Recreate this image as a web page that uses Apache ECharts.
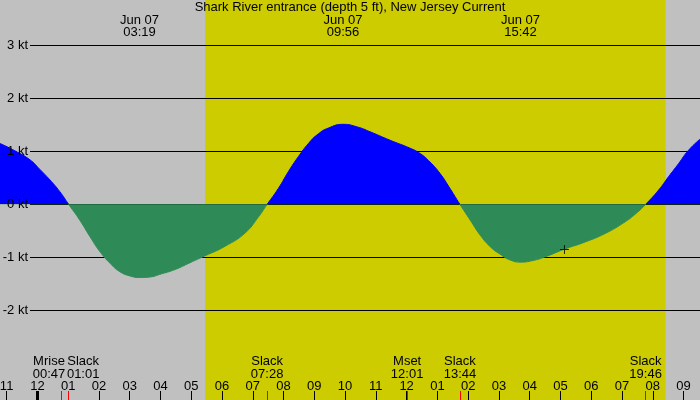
<!DOCTYPE html>
<html>
<head>
<meta charset="utf-8">
<script src="https://cdn.jsdelivr.net/npm/echarts@6/dist/echarts.min.js"></script>
<style>
  html, body { margin: 0; padding: 0; background: #c0c0c0; }
  #chart { width: 700px; height: 400px; }
</style>
</head>
<body>
<div id="chart"></div>
<script>
// hours from midnight Jun 07, current speed in knots (+ flood, - ebb)
var times = [-1.215, -0.73, -0.24, 0.08, 0.41, 0.73, 1.017, 1.38, 1.71, 2.03, 2.36, 2.68, 3.01, 3.317, 3.66, 3.98, 4.47,
  4.96, 5.45, 6.10, 6.75, 7.18, 7.467, 7.83, 8.16, 8.48, 8.81, 9.13, 9.46, 9.933, 10.40, 10.81, 11.46,
  12.11, 12.44, 12.76, 13.09, 13.41, 13.733, 14.07, 14.39, 14.72, 15.04, 15.37, 15.70, 16.10, 16.50, 17.15,
  17.80, 18.45, 19.10, 19.50, 19.767, 20.19, 20.51, 20.84, 21.16, 21.535];
var speeds = [1.15, 1.01, 0.84, 0.66, 0.46, 0.24, 0, -0.30, -0.61, -0.89, -1.11, -1.27, -1.35, -1.38, -1.37, -1.32, -1.23,
  -1.10, -0.97, -0.79, -0.54, -0.24, 0, 0.30, 0.62, 0.90, 1.15, 1.33, 1.44, 1.51, 1.46, 1.37, 1.21,
  1.06, 0.96, 0.80, 0.58, 0.30, 0, -0.30, -0.58, -0.80, -0.94, -1.05, -1.09, -1.06, -0.99, -0.84,
  -0.71, -0.55, -0.33, -0.15, 0, 0.27, 0.52, 0.77, 1.02, 1.23];

var tMin = -1.215, tMax = 21.535;
var hourTicks = [-1, 0, 1, 2, 3, 4, 5, 6, 7, 8, 9, 10, 11, 12, 13, 14, 15, 16, 17, 18, 19, 20, 21];
var speedTicks = [-2, -1, 0, 1, 2, 3];

// sunrise / sunset
var sunrise = 5.45, sunset = 20.42;

// max current times shown at top
var maxTimes = [3.317, 9.933, 15.7];
var maxLabels = ['03:19', '09:56', '15:42'];
var dateLabel = 'Jun 07';

// slack water events
var slackTimes = [1.017, 7.467, 13.733, 19.767];
var slackLabels = ['01:01', '07:28', '13:44', '19:46'];

// moon events
var moonTimes = [0.783, 12.017];
var moonNames = ['Mrise', 'Mset'];
var moonLabels = ['00:47', '12:01'];

// "now" mark
var nowTime = 17.13, nowSpeed = -0.85;

var FONT = 'Liberation Sans';
var FS = 13;

function nearest(arr, v) {
  var best = 0;
  for (var i = 1; i < arr.length; i++) {
    if (Math.abs(arr[i] - v) < Math.abs(arr[best] - v)) best = i;
  }
  return best;
}
function hourLabel(h) {
  var v = ((h % 12) + 12) % 12;
  if (v === 0) v = 12;
  return (v < 10 ? '0' : '') + v;
}
// rich style key: shift a label left/right when another event is close by
function shiftKey(v, others) {
  var o = others[nearest(others, v)];
  if (Math.abs(o - v) > 0.8) return 'c';
  return o > v ? 'l' : 'r';
}
var richEvents = {
  c: { fontSize: FS, lineHeight: 13, color: '#000', fontFamily: FONT },
  l: { fontSize: FS, lineHeight: 13, color: '#000', fontFamily: FONT, padding: [0, 25, 0, 0] },
  r: { fontSize: FS, lineHeight: 13, color: '#000', fontFamily: FONT, padding: [0, 0, 0, 29] }
};

function eventAxis(values, ticksColor, formatter) {
  return {
    gridIndex: 0, type: 'value', min: tMin, max: tMax, position: 'bottom',
    axisLine: { show: false, onZero: false },
    splitLine: { show: false },
    axisTick: { customValues: values, inside: true, length: 9, lineStyle: { color: ticksColor, width: 1 } },
    axisLabel: {
      customValues: values, inside: true, margin: 19,
      showMinLabel: true, showMaxLabel: true,
      color: '#000', fontSize: FS, fontFamily: FONT, lineHeight: 13,
      formatter: formatter,
      rich: richEvents
    }
  };
}

var data = times.map(function (t, i) { return [t, speeds[i]]; });

var chart = echarts.init(document.getElementById('chart'));
chart.setOption({
  animation: false,
  backgroundColor: '#c0c0c0',
  textStyle: { fontFamily: FONT },
  title: {
    text: 'Shark River entrance (depth 5 ft), New Jersey Current',
    left: 'center',
    top: 1,
    padding: 0,
    textStyle: { fontFamily: FONT, fontSize: FS, fontWeight: 'normal', color: '#000' }
  },
  grid: [
    { left: 0, right: 0, top: 0, bottom: 0, outerBoundsMode: 'none' },
    { left: 30, right: 0, top: 0, bottom: 0, outerBoundsMode: 'none' }
  ],
  xAxis: [
    {
      gridIndex: 0, type: 'value', min: tMin, max: tMax, position: 'bottom',
      axisLine: { show: false, onZero: false },
      splitLine: { show: false },
      axisTick: { customValues: hourTicks, inside: true, length: 9, lineStyle: { color: '#000', width: 1 } },
      axisLabel: {
        customValues: hourTicks, inside: true, margin: 7,
        showMinLabel: true, showMaxLabel: true,
        color: '#000', fontSize: FS, fontFamily: FONT,
        formatter: function (v) { return hourLabel(v); }
      }
    },
    {
      gridIndex: 0, type: 'value', min: tMin, max: tMax, position: 'bottom',
      axisLine: { show: false, onZero: false },
      splitLine: { show: false },
      axisTick: { customValues: [0], inside: true, length: 9, lineStyle: { color: '#000', width: 3 } },
      axisLabel: { show: false }
    },
    eventAxis(slackTimes, '#ff0000', function (v) {
      var i = nearest(slackTimes, v), k = shiftKey(v, moonTimes);
      return '{' + k + '|Slack}\n{' + k + '|' + slackLabels[i] + '}';
    }),
    eventAxis(moonTimes, '#ff0000', function (v) {
      var i = nearest(moonTimes, v), k = shiftKey(v, slackTimes);
      return '{' + k + '|' + moonNames[i] + '}\n{' + k + '|' + moonLabels[i] + '}';
    }),
    {
      gridIndex: 0, type: 'value', min: tMin, max: tMax, position: 'top',
      axisLine: { show: false, onZero: false },
      splitLine: { show: false },
      axisTick: { show: false },
      axisLabel: {
        customValues: maxTimes, inside: true, margin: 14,
        showMinLabel: true, showMaxLabel: true,
        color: '#000', fontSize: FS, fontFamily: FONT, lineHeight: 12,
        formatter: function (v) { return dateLabel + '\n' + maxLabels[nearest(maxTimes, v)]; }
      }
    },
    {
      gridIndex: 1, type: 'value', min: tMin, max: tMax, show: false,
      axisLine: { onZero: false }
    }
  ],
  yAxis: [
    { gridIndex: 0, type: 'value', min: -3.69, max: 3.855, show: false },
    {
      // grid lines, drawn under the current area
      gridIndex: 1, type: 'value', min: -3.69, max: 3.855, position: 'left',
      axisLine: { show: false },
      axisTick: { show: false, customValues: speedTicks },
      splitLine: { show: true, lineStyle: { color: '#000', width: 1 } },
      axisLabel: { show: false }
    },
    {
      // kt labels, drawn over the current area
      gridIndex: 1, type: 'value', min: -3.69, max: 3.855, position: 'left', z: 4,
      axisLine: { show: false },
      axisTick: { show: false, customValues: speedTicks },
      splitLine: { show: false },
      axisLabel: {
        customValues: speedTicks, margin: 2,
        showMinLabel: true, showMaxLabel: true,
        color: '#000', fontSize: FS, fontFamily: FONT,
        formatter: function (v) { return v + ' kt'; }
      }
    }
  ],
  visualMap: {
    type: 'piecewise', show: false, seriesIndex: 0, dimension: 1,
    pieces: [
      { gt: 0, lte: 10, color: '#0000ff' },
      { gt: -10, lte: 0, color: '#2e8b57' }
    ]
  },
  series: [
    {
      type: 'line',
      xAxisIndex: 0, yAxisIndex: 0,
      data: data,
      smooth: 0.5,
      showSymbol: false,
      lineStyle: { width: 1 },
      areaStyle: { opacity: 1 },
      markArea: {
        z: -1,
        silent: true,
        itemStyle: { color: '#cccc00', opacity: 1 },
        data: [[{ xAxis: sunrise }, { xAxis: sunset }]]
      }
    },
    {
      type: 'scatter',
      xAxisIndex: 0, yAxisIndex: 0,
      data: [[nowTime, nowSpeed]],
      symbol: 'path://M0,4h9v1h-9zM4,0h1v9h-1z',
      symbolSize: 9,
      itemStyle: { color: '#000' },
      z: 5
    }
  ]
});
</script>
</body>
</html>
